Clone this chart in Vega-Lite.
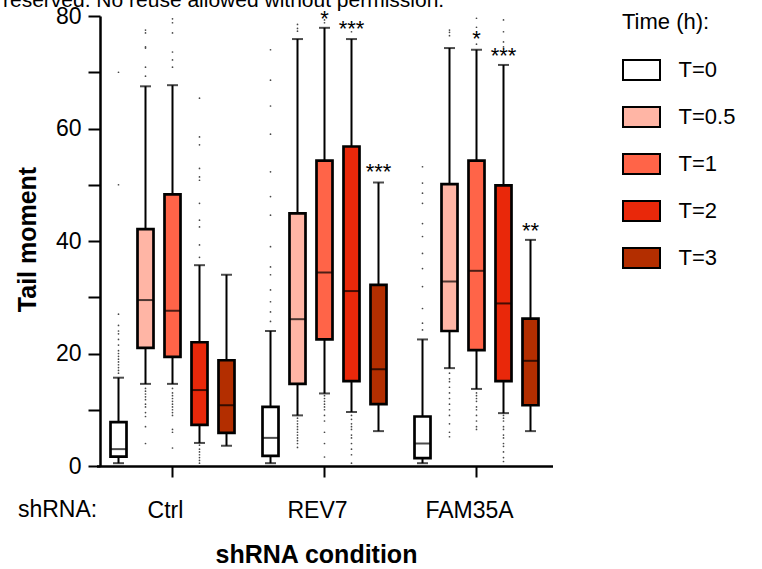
{
  "$schema": "https://vega.github.io/schema/vega-lite/v6.json",
  "width": 449,
  "height": 450,
  "autosize": {"type": "none"},
  "padding": {"left": 100, "top": 16, "right": 213, "bottom": 103},
  "config": {"font": "Liberation Sans", "view": {"stroke": null}},
  "datasets": {
    "boxes": [
      {"shRNA": "Ctrl", "Time": "0", "lo": 0.5, "q1": 1.65, "med": 3.0, "q3": 7.8, "hi": 15.7},
      {"shRNA": "Ctrl", "Time": "0.5", "lo": 14.6, "q1": 21.0, "med": 29.5, "q3": 42.1, "hi": 67.5},
      {"shRNA": "Ctrl", "Time": "1", "lo": 14.6, "q1": 19.4, "med": 27.6, "q3": 48.3, "hi": 67.7},
      {"shRNA": "Ctrl", "Time": "2", "lo": 4.1, "q1": 7.3, "med": 13.5, "q3": 22.0, "hi": 35.7},
      {"shRNA": "Ctrl", "Time": "3", "lo": 3.6, "q1": 5.9, "med": 10.8, "q3": 18.8, "hi": 34.0},
      {"shRNA": "REV7", "Time": "0", "lo": 0.5, "q1": 1.8, "med": 5.0, "q3": 10.5, "hi": 24.0},
      {"shRNA": "REV7", "Time": "0.5", "lo": 9.0, "q1": 14.6, "med": 26.1, "q3": 44.9, "hi": 75.9},
      {"shRNA": "REV7", "Time": "1", "lo": 12.9, "q1": 22.5, "med": 34.4, "q3": 54.3, "hi": 77.9},
      {"shRNA": "REV7", "Time": "2", "lo": 9.6, "q1": 15.1, "med": 31.1, "q3": 56.8, "hi": 75.9},
      {"shRNA": "REV7", "Time": "3", "lo": 6.2, "q1": 11.0, "med": 17.2, "q3": 32.2, "hi": 50.4},
      {"shRNA": "FAM35A", "Time": "0", "lo": 0.5, "q1": 1.4, "med": 4.0, "q3": 8.8, "hi": 22.5},
      {"shRNA": "FAM35A", "Time": "0.5", "lo": 17.4, "q1": 24.0, "med": 32.8, "q3": 50.1, "hi": 74.3},
      {"shRNA": "FAM35A", "Time": "1", "lo": 13.7, "q1": 20.6, "med": 34.7, "q3": 54.3, "hi": 74.0},
      {"shRNA": "FAM35A", "Time": "2", "lo": 9.4, "q1": 15.1, "med": 28.9, "q3": 49.9, "hi": 71.3},
      {"shRNA": "FAM35A", "Time": "3", "lo": 6.2, "q1": 10.8, "med": 18.7, "q3": 26.2, "hi": 40.2}
    ],
    "outliers": [
      {"shRNA": "Ctrl", "Time": "0", "v": 27}, {"shRNA": "Ctrl", "Time": "0", "v": 25}, {"shRNA": "Ctrl", "Time": "0", "v": 24}, {"shRNA": "Ctrl", "Time": "0", "v": 23.5}, {"shRNA": "Ctrl", "Time": "0", "v": 22.5}, {"shRNA": "Ctrl", "Time": "0", "v": 21.5}, {"shRNA": "Ctrl", "Time": "0", "v": 20.5}, {"shRNA": "Ctrl", "Time": "0", "v": 20}, {"shRNA": "Ctrl", "Time": "0", "v": 19.5}, {"shRNA": "Ctrl", "Time": "0", "v": 19}, {"shRNA": "Ctrl", "Time": "0", "v": 18.5}, {"shRNA": "Ctrl", "Time": "0", "v": 18}, {"shRNA": "Ctrl", "Time": "0", "v": 17.5}, {"shRNA": "Ctrl", "Time": "0", "v": 17}, {"shRNA": "Ctrl", "Time": "0", "v": 16.5}, {"shRNA": "Ctrl", "Time": "0", "v": 50}, {"shRNA": "Ctrl", "Time": "0", "v": 70},
      {"shRNA": "Ctrl", "Time": "0.5", "v": 77.5}, {"shRNA": "Ctrl", "Time": "0.5", "v": 77}, {"shRNA": "Ctrl", "Time": "0.5", "v": 74.5}, {"shRNA": "Ctrl", "Time": "0.5", "v": 74.3}, {"shRNA": "Ctrl", "Time": "0.5", "v": 70.9}, {"shRNA": "Ctrl", "Time": "0.5", "v": 69.3}, {"shRNA": "Ctrl", "Time": "0.5", "v": 13.8}, {"shRNA": "Ctrl", "Time": "0.5", "v": 13.3}, {"shRNA": "Ctrl", "Time": "0.5", "v": 12.8}, {"shRNA": "Ctrl", "Time": "0.5", "v": 12.3}, {"shRNA": "Ctrl", "Time": "0.5", "v": 11.8}, {"shRNA": "Ctrl", "Time": "0.5", "v": 11}, {"shRNA": "Ctrl", "Time": "0.5", "v": 10.5}, {"shRNA": "Ctrl", "Time": "0.5", "v": 9.5}, {"shRNA": "Ctrl", "Time": "0.5", "v": 8.8}, {"shRNA": "Ctrl", "Time": "0.5", "v": 7}, {"shRNA": "Ctrl", "Time": "0.5", "v": 4},
      {"shRNA": "Ctrl", "Time": "1", "v": 79.5}, {"shRNA": "Ctrl", "Time": "1", "v": 78.8}, {"shRNA": "Ctrl", "Time": "1", "v": 77}, {"shRNA": "Ctrl", "Time": "1", "v": 73.6}, {"shRNA": "Ctrl", "Time": "1", "v": 72.2}, {"shRNA": "Ctrl", "Time": "1", "v": 70.9}, {"shRNA": "Ctrl", "Time": "1", "v": 13.8}, {"shRNA": "Ctrl", "Time": "1", "v": 13}, {"shRNA": "Ctrl", "Time": "1", "v": 12.5}, {"shRNA": "Ctrl", "Time": "1", "v": 12}, {"shRNA": "Ctrl", "Time": "1", "v": 11.5}, {"shRNA": "Ctrl", "Time": "1", "v": 11}, {"shRNA": "Ctrl", "Time": "1", "v": 10.5}, {"shRNA": "Ctrl", "Time": "1", "v": 10}, {"shRNA": "Ctrl", "Time": "1", "v": 9.5}, {"shRNA": "Ctrl", "Time": "1", "v": 9}, {"shRNA": "Ctrl", "Time": "1", "v": 6.5}, {"shRNA": "Ctrl", "Time": "1", "v": 6}, {"shRNA": "Ctrl", "Time": "1", "v": 3.2},
      {"shRNA": "Ctrl", "Time": "2", "v": 65.4}, {"shRNA": "Ctrl", "Time": "2", "v": 58.5}, {"shRNA": "Ctrl", "Time": "2", "v": 57.1}, {"shRNA": "Ctrl", "Time": "2", "v": 52.9}, {"shRNA": "Ctrl", "Time": "2", "v": 51.4}, {"shRNA": "Ctrl", "Time": "2", "v": 50.8}, {"shRNA": "Ctrl", "Time": "2", "v": 46.7}, {"shRNA": "Ctrl", "Time": "2", "v": 43.7}, {"shRNA": "Ctrl", "Time": "2", "v": 42.5}, {"shRNA": "Ctrl", "Time": "2", "v": 39.3}, {"shRNA": "Ctrl", "Time": "2", "v": 37.1}, {"shRNA": "Ctrl", "Time": "2", "v": 3.7}, {"shRNA": "Ctrl", "Time": "2", "v": 3}, {"shRNA": "Ctrl", "Time": "2", "v": 2.5}, {"shRNA": "Ctrl", "Time": "2", "v": 2}, {"shRNA": "Ctrl", "Time": "2", "v": 1.5}, {"shRNA": "Ctrl", "Time": "2", "v": 1}, {"shRNA": "Ctrl", "Time": "2", "v": 0.5},
      {"shRNA": "REV7", "Time": "0", "v": 74}, {"shRNA": "REV7", "Time": "0", "v": 68.6}, {"shRNA": "REV7", "Time": "0", "v": 64}, {"shRNA": "REV7", "Time": "0", "v": 59}, {"shRNA": "REV7", "Time": "0", "v": 52.3}, {"shRNA": "REV7", "Time": "0", "v": 47.9}, {"shRNA": "REV7", "Time": "0", "v": 44.6}, {"shRNA": "REV7", "Time": "0", "v": 39}, {"shRNA": "REV7", "Time": "0", "v": 35.4}, {"shRNA": "REV7", "Time": "0", "v": 34}, {"shRNA": "REV7", "Time": "0", "v": 31.3}, {"shRNA": "REV7", "Time": "0", "v": 29.2}, {"shRNA": "REV7", "Time": "0", "v": 27.4}, {"shRNA": "REV7", "Time": "0", "v": 25.7},
      {"shRNA": "REV7", "Time": "0.5", "v": 78.5}, {"shRNA": "REV7", "Time": "0.5", "v": 77.8}, {"shRNA": "REV7", "Time": "0.5", "v": 77.3}, {"shRNA": "REV7", "Time": "0.5", "v": 8.5}, {"shRNA": "REV7", "Time": "0.5", "v": 8}, {"shRNA": "REV7", "Time": "0.5", "v": 7.5}, {"shRNA": "REV7", "Time": "0.5", "v": 7}, {"shRNA": "REV7", "Time": "0.5", "v": 6.5}, {"shRNA": "REV7", "Time": "0.5", "v": 6}, {"shRNA": "REV7", "Time": "0.5", "v": 5.5}, {"shRNA": "REV7", "Time": "0.5", "v": 5}, {"shRNA": "REV7", "Time": "0.5", "v": 4.5}, {"shRNA": "REV7", "Time": "0.5", "v": 4}, {"shRNA": "REV7", "Time": "0.5", "v": 3.3},
      {"shRNA": "REV7", "Time": "1", "v": 79.3}, {"shRNA": "REV7", "Time": "1", "v": 78.8}, {"shRNA": "REV7", "Time": "1", "v": 12.5}, {"shRNA": "REV7", "Time": "1", "v": 12}, {"shRNA": "REV7", "Time": "1", "v": 11.5}, {"shRNA": "REV7", "Time": "1", "v": 11}, {"shRNA": "REV7", "Time": "1", "v": 10.5}, {"shRNA": "REV7", "Time": "1", "v": 10}, {"shRNA": "REV7", "Time": "1", "v": 9}, {"shRNA": "REV7", "Time": "1", "v": 8}, {"shRNA": "REV7", "Time": "1", "v": 6}, {"shRNA": "REV7", "Time": "1", "v": 4}, {"shRNA": "REV7", "Time": "1", "v": 1.6},
      {"shRNA": "REV7", "Time": "2", "v": 77.2}, {"shRNA": "REV7", "Time": "2", "v": 9}, {"shRNA": "REV7", "Time": "2", "v": 8.3}, {"shRNA": "REV7", "Time": "2", "v": 7.5}, {"shRNA": "REV7", "Time": "2", "v": 7}, {"shRNA": "REV7", "Time": "2", "v": 6.5}, {"shRNA": "REV7", "Time": "2", "v": 5.5}, {"shRNA": "REV7", "Time": "2", "v": 5}, {"shRNA": "REV7", "Time": "2", "v": 4}, {"shRNA": "REV7", "Time": "2", "v": 3}, {"shRNA": "REV7", "Time": "2", "v": 2}, {"shRNA": "REV7", "Time": "2", "v": 0.5},
      {"shRNA": "FAM35A", "Time": "0", "v": 53.2}, {"shRNA": "FAM35A", "Time": "0", "v": 50.3}, {"shRNA": "FAM35A", "Time": "0", "v": 48.5}, {"shRNA": "FAM35A", "Time": "0", "v": 46.7}, {"shRNA": "FAM35A", "Time": "0", "v": 43.1}, {"shRNA": "FAM35A", "Time": "0", "v": 40.8}, {"shRNA": "FAM35A", "Time": "0", "v": 37.8}, {"shRNA": "FAM35A", "Time": "0", "v": 35.1}, {"shRNA": "FAM35A", "Time": "0", "v": 31.9}, {"shRNA": "FAM35A", "Time": "0", "v": 28}, {"shRNA": "FAM35A", "Time": "0", "v": 25.4}, {"shRNA": "FAM35A", "Time": "0", "v": 24.2},
      {"shRNA": "FAM35A", "Time": "0.5", "v": 77.5}, {"shRNA": "FAM35A", "Time": "0.5", "v": 77.1}, {"shRNA": "FAM35A", "Time": "0.5", "v": 76.5}, {"shRNA": "FAM35A", "Time": "0.5", "v": 16.5}, {"shRNA": "FAM35A", "Time": "0.5", "v": 15.5}, {"shRNA": "FAM35A", "Time": "0.5", "v": 15}, {"shRNA": "FAM35A", "Time": "0.5", "v": 14}, {"shRNA": "FAM35A", "Time": "0.5", "v": 13}, {"shRNA": "FAM35A", "Time": "0.5", "v": 12}, {"shRNA": "FAM35A", "Time": "0.5", "v": 11}, {"shRNA": "FAM35A", "Time": "0.5", "v": 10}, {"shRNA": "FAM35A", "Time": "0.5", "v": 9}, {"shRNA": "FAM35A", "Time": "0.5", "v": 7.5}, {"shRNA": "FAM35A", "Time": "0.5", "v": 6}, {"shRNA": "FAM35A", "Time": "0.5", "v": 5.2},
      {"shRNA": "FAM35A", "Time": "1", "v": 79.6}, {"shRNA": "FAM35A", "Time": "1", "v": 78}, {"shRNA": "FAM35A", "Time": "1", "v": 76.5}, {"shRNA": "FAM35A", "Time": "1", "v": 75}, {"shRNA": "FAM35A", "Time": "1", "v": 13}, {"shRNA": "FAM35A", "Time": "1", "v": 12.5}, {"shRNA": "FAM35A", "Time": "1", "v": 12}, {"shRNA": "FAM35A", "Time": "1", "v": 11.5}, {"shRNA": "FAM35A", "Time": "1", "v": 10.5}, {"shRNA": "FAM35A", "Time": "1", "v": 10}, {"shRNA": "FAM35A", "Time": "1", "v": 9}, {"shRNA": "FAM35A", "Time": "1", "v": 8}, {"shRNA": "FAM35A", "Time": "1", "v": 7}, {"shRNA": "FAM35A", "Time": "1", "v": 6.5},
      {"shRNA": "FAM35A", "Time": "2", "v": 79.3}, {"shRNA": "FAM35A", "Time": "2", "v": 77.2}, {"shRNA": "FAM35A", "Time": "2", "v": 75.4}, {"shRNA": "FAM35A", "Time": "2", "v": 74.5}, {"shRNA": "FAM35A", "Time": "2", "v": 9}, {"shRNA": "FAM35A", "Time": "2", "v": 8.5}, {"shRNA": "FAM35A", "Time": "2", "v": 8}, {"shRNA": "FAM35A", "Time": "2", "v": 7}, {"shRNA": "FAM35A", "Time": "2", "v": 6.5}, {"shRNA": "FAM35A", "Time": "2", "v": 5.5}, {"shRNA": "FAM35A", "Time": "2", "v": 5}, {"shRNA": "FAM35A", "Time": "2", "v": 4}, {"shRNA": "FAM35A", "Time": "2", "v": 3.5}, {"shRNA": "FAM35A", "Time": "2", "v": 2.5}, {"shRNA": "FAM35A", "Time": "2", "v": 1.5}, {"shRNA": "FAM35A", "Time": "2", "v": 0.8}
    ],
    "stars": [
      {"shRNA": "REV7", "Time": "1", "label": "*", "pos": 78.3},
      {"shRNA": "REV7", "Time": "2", "label": "***", "pos": 76.5},
      {"shRNA": "REV7", "Time": "3", "label": "***", "pos": 51.0},
      {"shRNA": "FAM35A", "Time": "1", "label": "*", "pos": 74.7},
      {"shRNA": "FAM35A", "Time": "2", "label": "***", "pos": 71.7},
      {"shRNA": "FAM35A", "Time": "3", "label": "**", "pos": 40.6}
    ],
    "note": [{"shRNA": "Ctrl", "Time": "1", "label": "shRNA:"}],
    "watermark": [{"shRNA": "Ctrl", "Time": "1", "label": "reserved. No reuse allowed without permission."}]
  },
  "encoding": {
    "x": {
      "field": "shRNA", "type": "nominal",
      "scale": {"domain": ["Ctrl", "REV7", "FAM35A"], "range": [-3.5, 452.5], "paddingInner": 0, "paddingOuter": 0},
      "axis": {"labelFontSize": 23, "labelColor": "black", "labelBaseline": "alphabetic", "labelPadding": 40, "labelOffset": -7, "labelAngle": 0, "tickSize": 11, "tickWidth": 2, "tickColor": "black", "domainColor": "black", "domainWidth": 2.5, "grid": false, "title": "shRNA condition", "titleFontSize": 25, "titleFontWeight": "bold", "titleColor": "black", "titleX": 216, "titleY": 96, "titleBaseline": "alphabetic", "titleAlign": "center"}
    },
    "xOffset": {
      "field": "Time", "type": "nominal",
      "scale": {"domain": ["0", "0.5", "1", "2", "3"], "paddingInner": 0, "paddingOuter": 0.315}
    }
  },
  "layer": [
    {
      "data": {"name": "boxes"},
      "mark": {"type": "rule", "color": "black", "strokeWidth": 2},
      "encoding": {
        "y": {"field": "lo", "type": "quantitative", "title": "Tail moment",
          "scale": {"domain": [0, 80], "nice": false, "zero": true},
          "axis": {"values": [0, 10, 20, 30, 40, 50, 60, 70, 80], "labelExpr": "datum.value % 20 === 0 ? datum.label : ''", "grid": false, "domainColor": "black", "domainWidth": 2.5, "tickColor": "black", "tickWidth": 2, "tickSize": 12, "labelFontSize": 23, "labelColor": "black", "labelPadding": 7, "title": "Tail moment", "titleFontSize": 25, "titleFontWeight": "bold", "titleColor": "black", "titleX": -65, "titleY": 223, "titleAngle": -90, "titleBaseline": "alphabetic", "titleAlign": "center"}},
        "y2": {"field": "hi"}
      }
    },
    {
      "data": {"name": "boxes"},
      "mark": {"type": "tick", "color": "black", "thickness": 2, "size": 11},
      "encoding": {"y": {"field": "lo", "type": "quantitative", "title": "Tail moment"}}
    },
    {
      "data": {"name": "boxes"},
      "mark": {"type": "tick", "color": "black", "thickness": 2, "size": 11},
      "encoding": {"y": {"field": "hi", "type": "quantitative", "title": "Tail moment"}}
    },
    {
      "data": {"name": "boxes"},
      "mark": {"type": "bar", "width": 16, "stroke": "black", "strokeWidth": 2.7, "fillOpacity": 1},
      "encoding": {
        "y": {"field": "q3", "type": "quantitative", "title": "Tail moment"},
        "y2": {"field": "q1"},
        "fill": {
          "field": "Time", "type": "nominal",
          "scale": {"domain": ["0", "0.5", "1", "2", "3"], "range": ["#FFFFFF", "#FFB5A5", "#FF6448", "#E9280A", "#B32E00"]},
          "legend": {"title": "Time (h):", "orient": "none", "legendX": 522, "legendY": -4, "titleFontSize": 22, "titleFontWeight": "normal", "titleColor": "black", "titlePadding": 25, "labelFontSize": 22, "labelColor": "black", "labelExpr": "'T=' + datum.label", "symbolType": "M-1.85,-1H1.85V1H-1.85Z", "symbolSize": 400, "symbolStrokeColor": "black", "symbolStrokeWidth": 2, "symbolOffset": 8.5, "labelOffset": 26, "rowPadding": 19, "symbolOpacity": 1}
        }
      }
    },
    {
      "data": {"name": "boxes"},
      "mark": {"type": "tick", "color": "black", "thickness": 2, "size": 17},
      "encoding": {"y": {"field": "med", "type": "quantitative", "title": "Tail moment"}}
    },
    {
      "data": {"name": "outliers"},
      "mark": {"type": "circle", "size": 3, "color": "#333333", "opacity": 0.9},
      "encoding": {"y": {"field": "v", "type": "quantitative", "title": "Tail moment"}}
    },
    {
      "data": {"name": "stars"},
      "mark": {"type": "text", "fontSize": 22, "color": "black", "baseline": "alphabetic", "align": "center"},
      "encoding": {
        "y": {"field": "pos", "type": "quantitative", "title": "Tail moment"},
        "text": {"field": "label"}
      }
    },
    {
      "data": {"name": "note"},
      "mark": {"type": "text", "fontSize": 23, "color": "black", "baseline": "alphabetic", "align": "center", "dx": -115, "dy": 51},
      "encoding": {
        "y": {"datum": 0, "type": "quantitative"},
        "text": {"field": "label"}
      }
    },
    {
      "data": {"name": "watermark"},
      "mark": {"type": "text", "fontSize": 21, "color": "black", "baseline": "alphabetic", "align": "left", "dx": -169.5, "dy": -9},
      "encoding": {
        "y": {"datum": 80, "type": "quantitative"},
        "text": {"field": "label"}
      }
    }
  ]
}
